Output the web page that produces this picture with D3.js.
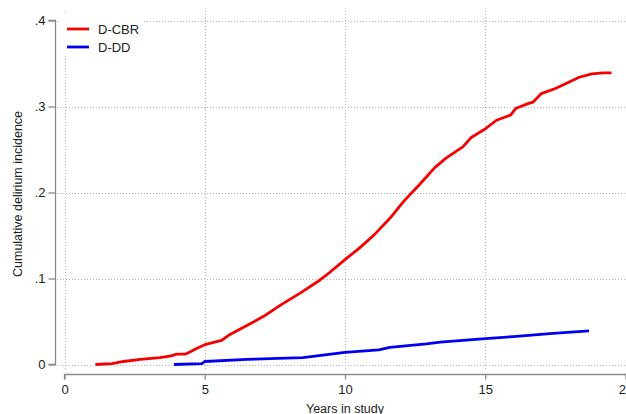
<!DOCTYPE html>
<html>
<head>
<meta charset="utf-8">
<script src="https://cdn.jsdelivr.net/npm/d3@7"></script>
<style>
  body { margin: 0; background: #fff; }
  text { font-family: "Liberation Sans", Arial, sans-serif; fill: #222; }
</style>
</head>
<body>
<div id="chart"></div>
<script>
// series (years, cumulative incidence)
var cbrYears = [1.1, 1.7, 2.1, 2.7, 3.4, 3.8, 4.0, 4.3, 4.5, 4.8, 5.0, 5.35, 5.6, 5.9, 6.2, 6.6, 7.1, 7.7, 8.4, 9.1, 9.45, 10.0, 10.5, 11.05, 11.6, 12.1, 12.65, 13.2, 13.6, 14.2, 14.5, 15.0, 15.4, 15.9, 16.1, 16.5, 16.7, 17.0, 17.5, 17.9, 18.35, 18.8, 19.2, 19.5];
var cbrValues = [0, 0.001, 0.0035, 0.006, 0.008, 0.010, 0.012, 0.012, 0.015, 0.020, 0.023, 0.026, 0.028, 0.035, 0.040, 0.047, 0.056, 0.069, 0.083, 0.098, 0.107, 0.122, 0.135, 0.151, 0.170, 0.190, 0.209, 0.229, 0.240, 0.253, 0.264, 0.274, 0.284, 0.290, 0.298, 0.303, 0.305, 0.315, 0.321, 0.327, 0.334, 0.338, 0.339, 0.339];

var ddYears = [3.9, 4.9, 5.0, 6.5, 8.5, 10.0, 11.2, 11.6, 12.9, 13.4, 15.0, 16.0, 17.3, 18.7];
var ddValues = [0, 0.001, 0.0035, 0.006, 0.008, 0.014, 0.017, 0.020, 0.024, 0.026, 0.030, 0.0325, 0.036, 0.039];

var xTicks = [0, 5, 10, 15, 20];
var yTicks = [0, 0.1, 0.2, 0.3, 0.4];
var yTickLabels = ["0", ".1", ".2", ".3", ".4"];
var seriesNames = ["D-CBR", "D-DD"];
var seriesColors = ["#f50000", "#0000f0"];

var width = 626, height = 414;

var svg = d3.select("#chart").append("svg")
  .attr("width", width)
  .attr("height", height);

var x = d3.scaleLinear().domain([0, 20]).range([64.5, 625.5]);
var y = d3.scaleLinear().domain([0, 0.4]).range([364.5, 20.5]);

// grid (dotted, light gray)
var grid = svg.append("g");
grid.selectAll(".hgrid").data(yTicks).enter().append("line")
  .attr("x1", 57).attr("x2", width)
  .attr("y1", function (d) { return Math.round(y(d)) + 0.5; })
  .attr("y2", function (d) { return Math.round(y(d)) + 0.5; })
  .attr("stroke", "#b4b4b4").attr("stroke-width", 1)
  .attr("stroke-dasharray", "1,2");
grid.selectAll(".vgrid").data(xTicks).enter().append("line")
  .attr("x1", function (d) { return Math.round(x(d)) + 0.5; })
  .attr("x2", function (d) { return Math.round(x(d)) + 0.5; })
  .attr("y1", 11).attr("y2", 371)
  .attr("stroke", "#b4b4b4").attr("stroke-width", 1)
  .attr("stroke-dasharray", "1,2");

// y axis
var yAxis = d3.axisLeft(y).tickValues(yTicks).tickSize(7).tickPadding(3)
  .tickFormat(function (d, i) { return yTickLabels[i]; });
var gy = svg.append("g").attr("transform", "translate(55.5,0)").call(yAxis);
gy.select(".domain").attr("stroke", "#8a8a8a").attr("stroke-width", 1.3)
  .attr("d", "M-7," + y(0.4) + "H0V" + y(0) + "H-7");
gy.selectAll(".tick line").attr("stroke", "#8a8a8a").attr("stroke-width", 1.3);
gy.selectAll(".tick text").attr("font-size", 13)
  .style("font-family", "Liberation Sans, Arial, sans-serif").attr("fill", "#222");

// x axis
var xAxis = d3.axisBottom(x).tickValues(xTicks).tickSize(5).tickPadding(5);
var gx = svg.append("g").attr("transform", "translate(0,374.5)").call(xAxis);
gx.select(".domain").attr("stroke", "#8a8a8a").attr("stroke-width", 1.3)
  .attr("d", "M" + x(0) + ",5V0H" + (width + 5));
gx.selectAll(".tick line").attr("stroke", "#8a8a8a").attr("stroke-width", 1.3);
gx.selectAll(".tick text").attr("font-size", 13)
  .style("font-family", "Liberation Sans, Arial, sans-serif").attr("fill", "#222");

// axis titles
svg.append("text")
  .attr("x", 345).attr("y", 412.5)
  .attr("text-anchor", "middle").attr("font-size", 12.5)
  .text("Years in study");
svg.append("text")
  .attr("transform", "translate(22,194) rotate(-90)")
  .attr("text-anchor", "middle").attr("font-size", 12.5)
  .text("Cumulative delirium incidence");

// lines
var line = d3.line()
  .x(function (d) { return x(d[0]); })
  .y(function (d) { return y(d[1]); });

var series = [d3.zip(cbrYears, cbrValues), d3.zip(ddYears, ddValues)];

svg.selectAll(".series").data(series).enter().append("path")
  .attr("class", "series")
  .attr("d", line)
  .attr("fill", "none")
  .attr("stroke", function (d, i) { return seriesColors[i]; })
  .attr("stroke-width", 2.8)
  .attr("stroke-linejoin", "round");

// legend
var legend = svg.append("g");
legend.append("rect")
  .attr("x", 60).attr("y", 14).attr("width", 84).attr("height", 42)
  .attr("fill", "#fff");
var items = legend.selectAll(".item").data(seriesNames).enter().append("g")
  .attr("transform", function (d, i) { return "translate(0," + (29 + i * 18) + ")"; });
items.append("line")
  .attr("x1", 67).attr("x2", 89).attr("y1", 0).attr("y2", 0)
  .attr("stroke", function (d, i) { return seriesColors[i]; })
  .attr("stroke-width", 2.8);
items.append("text")
  .attr("x", 98).attr("y", 0).attr("dy", "0.35em")
  .attr("font-size", 13)
  .text(function (d) { return d; });
</script>
</body>
</html>
